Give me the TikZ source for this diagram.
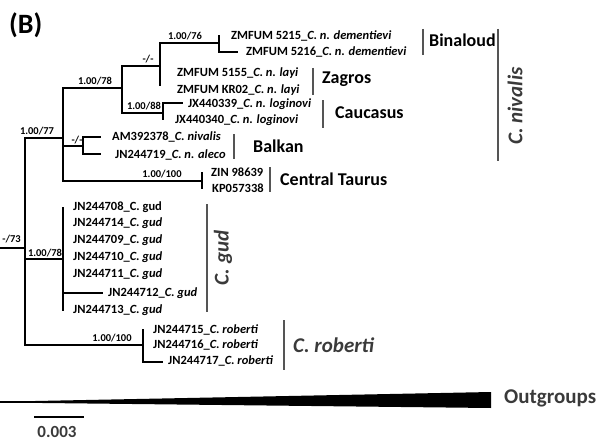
\documentclass[tikz,border=0pt]{standalone}
\usepackage{fontspec}
\setmainfont{Carlito}
\usetikzlibrary{positioning}
\definecolor{taxgray}{HTML}{3A3A3A}
\definecolor{bargray}{HTML}{555555}

\begin{document}
\begin{tikzpicture}[
  x=1pt,y=-1pt,
  br/.style={line width=2.6pt},
  bar/.style={draw=bargray, line width=1.1pt},
  leaf/.style={anchor=west, inner sep=0pt, font=\bfseries\fontsize{12.5}{14}\selectfont},
  supp/.style={anchor=south, inner sep=0pt, font=\bfseries\fontsize{10.5}{12}\selectfont},
  grp/.style={anchor=west, inner sep=0pt, font=\bfseries\fontsize{18}{20}\selectfont},
  taxon/.style={inner sep=0pt, text=taxgray, font=\bfseries\itshape\fontsize{21}{24}\selectfont}
]
\useasboundingbox (0,0) rectangle (602,444);

% internal nodes of the tree
\coordinate (rootL) at (0,248);
\coordinate (root) at (25,248);
\coordinate (nNiv) at (63,138);
\coordinate (nA) at (122,88);
\coordinate (nB) at (160,66);
\coordinate (nBin) at (219,43);
\coordinate (nCau) at (163,113);
\coordinate (nBal) at (83,146);
\coordinate (nCT) at (202,181);
\coordinate (nGud) at (63,259);
\coordinate (nRob) at (143,345);

% tips
\coordinate (t5215) at (219,35);
\coordinate (t5216) at (238,52);
\coordinate (tZag) at (160,86);
\coordinate (t339) at (183,103);
\coordinate (t340) at (163,120);
\coordinate (t378) at (101,137);
\coordinate (t719) at (101,154);
\coordinate (tZin) at (202,172);
\coordinate (tKp) at (202,189);
\coordinate (tGudT) at (63,207);
\coordinate (t712) at (103,293);
\coordinate (tGudB) at (63,311);
\coordinate (tRobT) at (143,329);
\coordinate (t717) at (163,362);

\draw[br] (rootL) -- (root);
\draw[br] (root) |- (nNiv); \draw[br] (root) |- (nGud); \draw[br] (root) |- (nRob);
\draw[br] (nNiv) |- (nA); \draw[br] (nNiv) |- (nBal); \draw[br] (nNiv) |- (nCT);
\draw[br] (nA) |- (nB); \draw[br] (nA) |- (nCau);
\draw[br] (nB) |- (nBin); \draw[br] (nB) -- (tZag);
\draw[br] (nBin) -- (t5215); \draw[br] (nBin) |- (t5216);
\draw[br] (nCau) |- (t339); \draw[br] (nCau) -- (t340);
\draw[br] (nBal) |- (t378); \draw[br] (nBal) |- (t719);
\draw[br] (nCT) -- (tZin); \draw[br] (nCT) -- (tKp);
\draw[br] (nGud) -- (tGudT); \draw[br] (nGud) -- (tGudB); \draw[br] (nGud |- t712) -- (t712);
\draw[br] (nRob) -- (tRobT); \draw[br] (nRob) |- (t717);

% support values
\node[supp] (s76) at (185,40) {1.00/76};
\node[supp] (sB) at (148,63) {-/-};
\node[supp] (s78a) at (95,85) {1.00/78};
\node[supp] (s88) at (144,110) {1.00/88};
\node[supp] (s77) at (37,135) {1.00/77};
\node[supp] (sBal) at (77,144) {-/-};
\node[supp] (sCT) at (162,178) {1.00/100};
\node[supp, anchor=south east] (s73) at (21,243) {-/73};
\node[supp] (s78b) at (45,257) {1.00/78};
\node[supp] (sRob) at (112,342) {1.00/100};

% sequences
\node[leaf] (l5215) at (231,36) {ZMFUM 5215\_\textit{C. n. dementievi}};
\node[leaf] (l5216) at (246,52) {ZMFUM 5216\_\textit{C. n. dementievi}};
\node[leaf] (l5155) at (177,73) {ZMFUM 5155\_\textit{C. n. layi}};
\node[leaf] (lKR02) at (177,90) {ZMFUM KR02\_\textit{C. n. layi}};
\node[leaf] (l339) at (188,104) {JX440339\_\textit{C. n. loginovi}};
\node[leaf] (l340) at (175,120) {JX440340\_\textit{C. n. loginovi}};
\node[leaf] (l378) at (112,137) {AM392378\_\textit{C. nivalis}};
\node[leaf] (l719) at (115,155) {JN244719\_\textit{C. n. aleco}};
\node[leaf] (lZin) at (211,172) {ZIN 98639};
\node[leaf] (lKp) at (212,188) {KP057338};
\node[leaf] (l708) at (73,207) {JN244708\_C. gud};
\node[leaf] (l714) at (73,223) {JN244714\_\textit{C. gud}};
\node[leaf] (l709) at (73,240) {JN244709\_\textit{C. gud}};
\node[leaf] (l710) at (73,257) {JN244710\_\textit{C. gud}};
\node[leaf] (l711) at (73,274) {JN244711\_\textit{C. gud}};
\node[leaf] (l712) at (108,293) {JN244712\_\textit{C. gud}};
\node[leaf] (l713) at (73,310) {JN244713\_\textit{C. gud}};
\node[leaf] (l715) at (153,330) {JN244715\_\textit{C. roberti}};
\node[leaf] (l716) at (153,345) {JN244716\_\textit{C. roberti}};
\node[leaf] (l717) at (168,361) {JN244717\_\textit{C. roberti}};

% groups
\draw[bar] (423,29) -- (423,55);
\draw[bar] (313,68) -- (313,95);
\draw[bar] (323,100) -- (323,128);
\draw[bar] (234,134) -- (234,159);
\draw[bar] (270,167) -- (270,192);
\draw[bar] (498,29) -- (498,161);
\draw[bar] (207,204) -- (207,312);
\draw[bar] (284,320) -- (284,370);
\node[grp] (gBin) at (429,40) {Binaloud};
\node[grp] (gZag) at (322,79) {Zagros};
\node[grp] (gCau) at (335,113) {Caucasus};
\node[grp] (gBal) at (253,146) {Balkan};
\node[grp] (gCT) at (280,179) {Central Taurus};
\node[taxon, rotate=90] (tNiv) at (515,106) {C. nivalis};
\node[taxon, rotate=90] (tGud) at (223,258) {C. gud};
\node[taxon, anchor=west] (tRob) at (293,345) {C. roberti};

% outgroups and scale
\coordinate (oL) at (0,402);
\coordinate (oW) at (25,402);
\draw[line width=2pt] (oL) -- (oW);
\fill (25,401.2) -- (491,392) -- (491,408) -- (25,402.8) -- cycle;
\node[taxon, anchor=west, font=\bfseries\fontsize{21}{24}\selectfont] (out) at (504,398) {Outgroups};
\draw[br] (34,417) -- (84,417);
\node[inner sep=0pt, text=taxgray, font=\bfseries\fontsize{17}{20}\selectfont] (scale) at (57,432) {0.003};
\node[anchor=west, inner sep=0pt, font=\bfseries\fontsize{28}{30}\selectfont] (panel) at (9,25) {(B)};
\end{tikzpicture}
\end{document}
